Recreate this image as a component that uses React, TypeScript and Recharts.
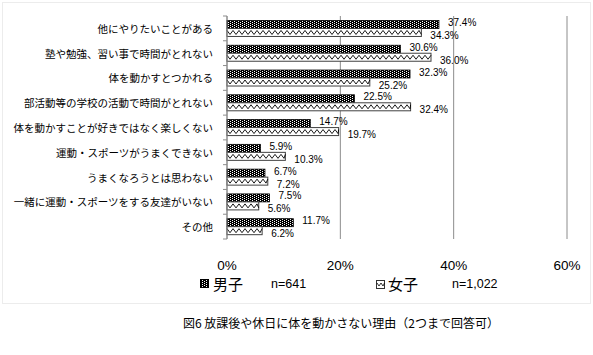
import { Bar, BarChart, CartesianGrid, LabelList, XAxis, YAxis } from "recharts";

const categories = [
  "他にやりたいことがある",
  "塾や勉強、習い事で時間がとれない",
  "体を動かすとつかれる",
  "部活動等の学校の活動で時間がとれない",
  "体を動かすことが好きではなく楽しくない",
  "運動・スポーツがうまくできない",
  "うまくなろうとは思わない",
  "一緒に運動・スポーツをする友達がいない",
  "その他",
];
const boys = [37.4, 30.6, 32.3, 22.5, 14.7, 5.9, 6.7, 7.5, 11.7];
const girls = [34.3, 36.0, 25.2, 32.4, 19.7, 10.3, 7.2, 5.6, 6.2];
const xTicks = [0, 20, 40, 60];
const boysLegend = "男子";
const boysN = "n=641";
const girlsLegend = "女子";
const girlsN = "n=1,022";
const caption = "図6 放課後や休日に体を動かさない理由（2つまで回答可）";

const data = categories.map((name, i) => ({ name, boys: boys[i], girls: girls[i] }));

const PLOT_LEFT = 227;
const PLOT_TOP = 16;
const PLOT_BOTTOM = 239;
const HALF_BAND = (PLOT_BOTTOM - PLOT_TOP) / categories.length / 2;
const jp = '"Noto Sans CJK JP", "Noto Sans", sans-serif';
const num = '"Liberation Sans", Arial, sans-serif';
const gridColor = "#8c8c8c";

function CategoryTick(props: any) {
  const { x, y, payload, index } = props;
  return (
    <g>
      <line x1={PLOT_LEFT - 4} x2={PLOT_LEFT} y1={y - HALF_BAND} y2={y - HALF_BAND} stroke={gridColor} />
      {index === categories.length - 1 && (
        <line x1={PLOT_LEFT - 4} x2={PLOT_LEFT} y1={y + HALF_BAND} y2={y + HALF_BAND} stroke={gridColor} />
      )}
      <text x={x} y={y} textAnchor="end" dominantBaseline="central" fontSize={10.5} fontFamily={jp} fill="#000">
        {payload.value}
      </text>
    </g>
  );
}

function DottedBar(props: any) {
  const { x, y, width, height } = props;
  if (!width) return null;
  return <rect x={x} y={y} width={width} height={height} fill="url(#dots)" stroke="#000" strokeWidth={0.8} />;
}

function ZigzagBar(props: any) {
  const { x, y, width, height } = props;
  if (!width) return null;
  const pts: string[] = [];
  let up = true;
  for (let px = x; px < x + width; px += 3) {
    pts.push(`${px},${up ? y + 2 : y + height - 2}`);
    up = !up;
  }
  pts.push(`${x + width},${up ? y + 2 : y + height - 2}`);
  return (
    <g>
      <rect x={x} y={y} width={width} height={height} fill="#fff" stroke="#404040" strokeWidth={1} />
      <polyline points={pts.join(" ")} fill="none" stroke="#000" strokeWidth={0.9} />
    </g>
  );
}

const makeLabel = (dy: number) => (props: any) => {
  const { x, y, width, height, value } = props;
  return (
    <text
      x={x + width + 9}
      y={y + height / 2 + dy}
      dominantBaseline="central"
      fontSize={10}
      fontFamily={num}
      fill="#000"
    >
      {`${Number(value).toFixed(1)}%`}
    </text>
  );
};

function Swatch({ kind }: { kind: "dots" | "zig" }) {
  return (
    <svg width={9} height={9} style={{ display: "block" }}>
      {kind === "dots" ? (
        <rect x={0.5} y={0.5} width={8} height={8} fill="url(#dots)" stroke="#000" />
      ) : (
        <g>
          <rect x={0.5} y={0.5} width={8} height={8} fill="#fff" stroke="#333" />
          <polyline points="1,3 3,6 5,3 7,6 8.5,3" fill="none" stroke="#000" strokeWidth={0.8} />
        </g>
      )}
    </svg>
  );
}

export default function App() {
  return (
    <div style={{ position: "absolute", left: 0, top: 0, width: 593, height: 355, background: "#fff" }}>
      <svg width={0} height={0} style={{ position: "absolute" }}>
        <defs>
          <pattern id="dots" width={4} height={2} patternUnits="userSpaceOnUse">
            <rect width={4} height={2} fill="#000" />
            <rect x={0} y={0} width={1} height={1} fill="#fff" />
            <rect x={2} y={1} width={1} height={1} fill="#fff" />
          </pattern>
        </defs>
      </svg>
      <div
        style={{
          position: "absolute",
          left: 2,
          top: 2,
          width: 587,
          height: 300,
          border: "1px solid #ececec",
        }}
      />
      <div style={{ position: "absolute", left: 0, top: 0 }}>
        <BarChart
          width={593}
          height={355}
          data={data}
          layout="vertical"
          margin={{ top: PLOT_TOP, right: 26, bottom: 355 - PLOT_BOTTOM - 40, left: 0 }}
          barCategoryGap="18%"
          barGap={0}
        >
          <CartesianGrid horizontal={false} stroke={gridColor} strokeWidth={1} />
          <XAxis
            type="number"
            domain={[0, 60]}
            ticks={xTicks}
            tickFormatter={(v) => `${v}%`}
            axisLine={false}
            tickLine={false}
            tickMargin={15}
            height={40}
            tick={{ fontSize: 13.5, fontFamily: num, fill: "#000" }}
          />
          <YAxis
            type="category"
            dataKey="name"
            width={PLOT_LEFT}
            axisLine={{ stroke: gridColor }}
            tickLine={false}
            tickSize={0}
            tickMargin={14}
            interval={0}
            tick={<CategoryTick />}
          />
          <Bar dataKey="boys" shape={<DottedBar />} isAnimationActive={false}>
            <LabelList dataKey="boys" content={makeLabel(-2)} />
          </Bar>
          <Bar dataKey="girls" shape={<ZigzagBar />} isAnimationActive={false}>
            <LabelList dataKey="girls" content={makeLabel(3)} />
          </Bar>
        </BarChart>
      </div>
      <div style={{ position: "absolute", left: 200, top: 279 }}>
        <Swatch kind="dots" />
      </div>
      <div style={{ position: "absolute", left: 213, top: 274, fontFamily: jp, fontSize: 15, lineHeight: "20px" }}>
        {boysLegend}
      </div>
      <div style={{ position: "absolute", left: 271, top: 275, fontFamily: num, fontSize: 12.5, lineHeight: "18px" }}>
        {boysN}
      </div>
      <div style={{ position: "absolute", left: 376, top: 280 }}>
        <Swatch kind="zig" />
      </div>
      <div style={{ position: "absolute", left: 388, top: 274, fontFamily: jp, fontSize: 15, lineHeight: "20px" }}>
        {girlsLegend}
      </div>
      <div style={{ position: "absolute", left: 452, top: 275, fontFamily: num, fontSize: 12.5, lineHeight: "18px" }}>
        {girlsN}
      </div>
      <div
        style={{
          position: "absolute",
          left: 183,
          top: 315,
          fontFamily: jp,
          fontSize: 12,
          lineHeight: "16px",
          whiteSpace: "nowrap",
        }}
      >
        {caption}
      </div>
    </div>
  );
}
